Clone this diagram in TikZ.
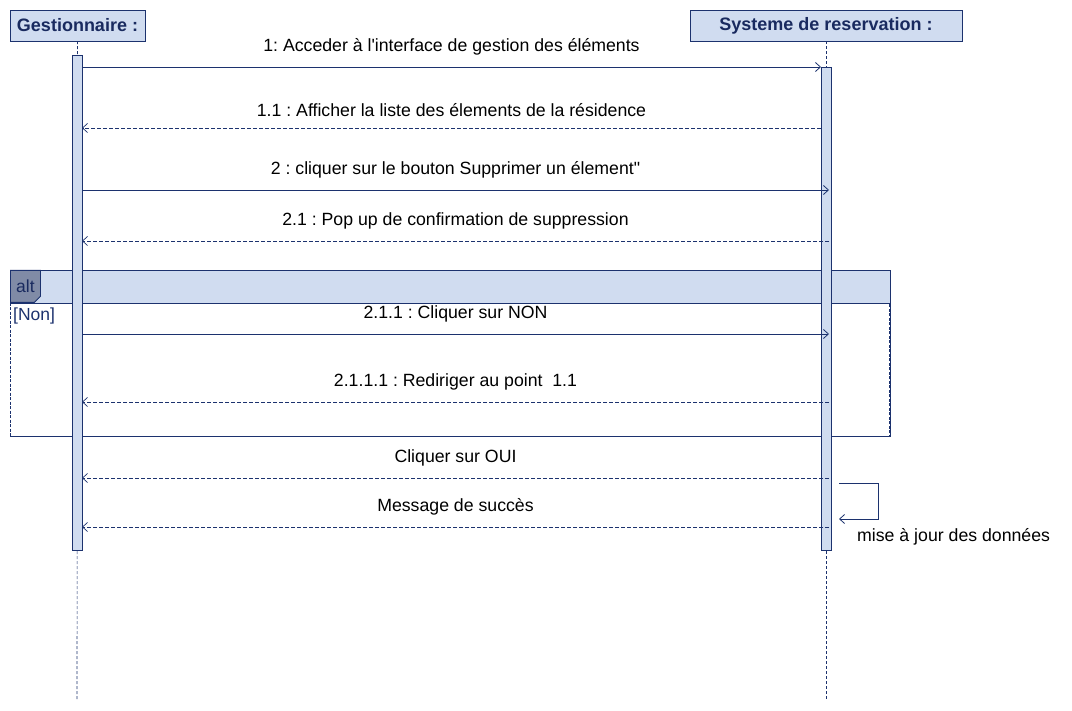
\documentclass[tikz,border=0pt]{standalone}
\usepackage{fontspec}
\setmainfont{Liberation Sans}[Ligatures=TeXOff]
\usetikzlibrary{arrows.meta,shapes.misc}
\frenchspacing

\definecolor{umlLine}{RGB}{28,50,110}
\definecolor{umlText}{RGB}{25,42,95}
\definecolor{umlFill}{RGB}{208,220,240}
\definecolor{umlTab}{RGB}{128,139,166}

\tikzstyle{headNode} = [rectangle, draw=umlLine, fill=umlFill, text=umlText, font=\fontsize{18}{20}\selectfont\bfseries, inner sep=0pt, text centered]
\tikzstyle{barNode} = [rectangle, draw=umlLine, fill=umlFill, line width=0.8pt]
\tikzstyle{lifeline} = [umlLine, dashed, dash pattern=on 3pt off 2pt, line width=0.6pt]
\tikzstyle{call} = [umlLine, line width=0.8pt, -{Straight Barb[length=5pt,width=9pt]}]
\tikzstyle{reply} = [umlLine, line width=0.7pt, dash pattern=on 4pt off 2pt, -{Straight Barb[length=5pt,width=9pt]}]
\tikzstyle{msgText} = [above=8pt, text=black, font=\fontsize{17.7}{20}\selectfont]

\begin{document}
\begin{tikzpicture}[x=1pt, y=-1pt]
    \useasboundingbox (0,0) rectangle (1072,711);

    % participants
    \node (gest)[headNode, minimum width=135pt, minimum height=31pt] at (77.5,25.5) {Gestionnaire :};
    \node (sys)[headNode, minimum width=272pt, minimum height=31pt] at (826,25.5) {Systeme de reservation :};

    \coordinate (gestEnd) at (77,700);
    \coordinate (sysEnd) at (826,700);
    \draw [lifeline] (gest.south) -- (gestEnd);
    \draw [lifeline] (sys.south) -- (sysEnd);

    % alt fragment
    \node (altHead)[rectangle, draw=umlLine, fill=umlFill, line width=0.8pt, minimum width=880pt, minimum height=33pt, inner sep=0pt] at (450,286.5) {};
    \node (altBody)[rectangle, draw=umlLine, dashed, dash pattern=on 3pt off 1.5pt, line width=0.8pt, minimum width=879pt, minimum height=133pt, inner sep=0pt] at (450,370) {};
    \draw [umlLine, line width=0.8pt] (altBody.north east) -- (altBody.south east) -- (altBody.south west);
    \node (altTab)[chamfered rectangle, chamfered rectangle corners=south east, chamfered rectangle xsep=3pt, chamfered rectangle ysep=3pt, draw=umlLine, fill=umlTab, line width=0.8pt, minimum width=30pt, minimum height=32pt, inner sep=0pt, anchor=north west, text=umlText, font=\fontsize{17.5}{20}\selectfont] at (10,270) {alt};
    \node (guard)[anchor=north west, inner sep=0pt, text=umlLine, font=\fontsize{17.5}{20}\selectfont] at (13,308) {[Non]};

    % activations
    \node (gestBar)[barNode, minimum width=10pt, minimum height=495pt, inner sep=0pt, anchor=north] at (77,55) {};
    \node (sysBar)[barNode, minimum width=10pt, minimum height=483pt, inner sep=0pt, anchor=north] at (826,67) {};

    % message end points
    \coordinate (g1) at (82,67);   \coordinate (s1) at (821,67);
    \coordinate (g2) at (82,128);  \coordinate (s2) at (821,128);
    \coordinate (g3) at (82,190);  \coordinate (s3) at (829,190);
    \coordinate (g4) at (82,241);  \coordinate (s4) at (829,241);
    \coordinate (g5) at (82,334);  \coordinate (s5) at (829,334);
    \coordinate (g6) at (82,402);  \coordinate (s6) at (829,402);
    \coordinate (g7) at (82,478);  \coordinate (s7) at (829,478);
    \coordinate (g8) at (82,527);  \coordinate (s8) at (829,527);
    \coordinate (loopA) at (839,483);
    \coordinate (loopB) at (839,519);

    \draw [call] (g1) -- node[msgText]{1: Acceder à l'interface de gestion des éléments} (s1);
    \draw [reply] (s2) -- node[msgText]{1.1 : Afficher la liste des élements de la résidence} (g2);
    \draw [call] (g3) -- node[msgText]{2 : cliquer sur le bouton Supprimer un élement"} (s3);
    \draw [reply] (s4) -- node[msgText]{2.1 : Pop up de confirmation de suppression} (g4);
    \draw [call] (g5) -- node[msgText]{2.1.1 : Cliquer sur NON} (s5);
    \draw [reply] (s6) -- node[msgText]{2.1.1.1 : Rediriger au point~ 1.1} (g6);
    \draw [reply] (s7) -- node[msgText]{Cliquer sur OUI} (g7);
    \draw [reply] (s8) -- node[msgText]{Message de succès} (g8);

    % self call
    \draw [call] (loopA) -- ++(39,0) |- (loopB);
    \node (update)[anchor=west, inner sep=0pt, font=\fontsize{17.7}{20}\selectfont] at (857,537) {mise à jour des données};
\end{tikzpicture}
\end{document}
